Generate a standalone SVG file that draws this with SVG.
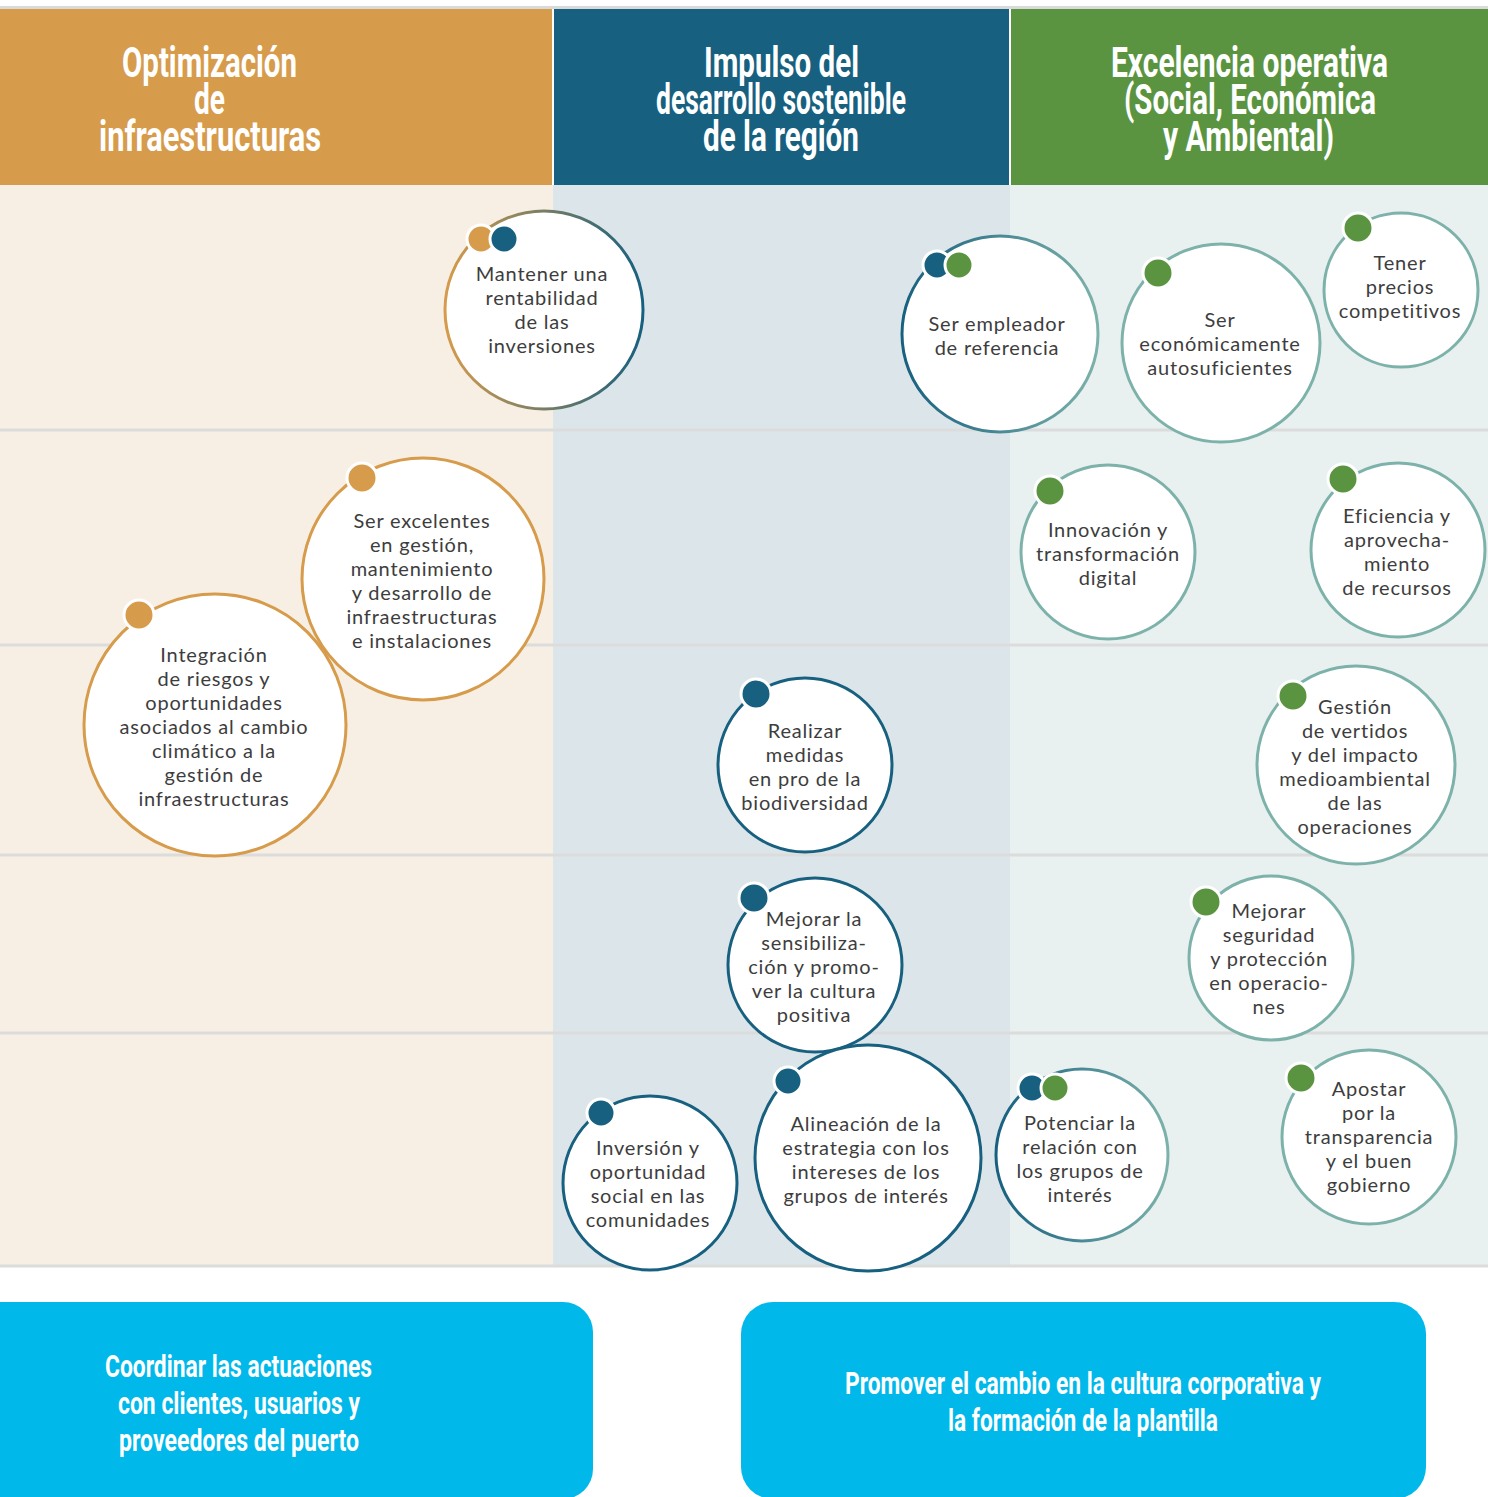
<svg xmlns="http://www.w3.org/2000/svg" width="1488" height="1497" viewBox="0 0 1488 1497">
<defs>
<style>
.t{font-family:"Lato","Open Sans",sans-serif;font-size:20px;letter-spacing:0.8px;fill:#3d3d3d;text-anchor:middle}
.h{font-family:"Liberation Sans Narrow","Roboto","Liberation Sans",sans-serif;font-weight:700;font-size:42px;fill:#ffffff}
.b{font-family:"Liberation Sans Narrow","Roboto","Liberation Sans",sans-serif;font-weight:700;font-size:32px;fill:#ffffff}
.c{fill:#ffffff;stroke-width:3}
.co{stroke:#D69B4B}
.cb{stroke:#17607F}
.ct{stroke:#7DB2AB}
.d{stroke:#ffffff;stroke-width:3}
.dO{fill:#D69B4B}
.dB{fill:#17607F}
.dG{fill:#5B9440}
.hl{stroke:#DCDCDC;stroke-width:3}
</style>
<linearGradient id="gOB" x1="0" y1="0" x2="1" y2="0">
<stop offset="0" stop-color="#D69B4B"/>
<stop offset="1" stop-color="#17607F"/>
</linearGradient>
<linearGradient id="gBT" x1="0" y1="0" x2="1" y2="0">
<stop offset="0" stop-color="#17607F"/>
<stop offset="1" stop-color="#7DB2AB"/>
</linearGradient>
</defs>
<rect x="0" y="0" width="1488" height="1497" fill="#ffffff"/>
<!-- top gray strip -->
<rect x="0" y="6" width="1488" height="3" fill="#D9D9D9"/>
<!-- body backgrounds -->
<rect x="0" y="185" width="553" height="1081" fill="#F7EFE3"/>
<rect x="553" y="185" width="457" height="1081" fill="#DCE6EA"/>
<rect x="1010" y="185" width="478" height="1081" fill="#E9F1F0"/>
<!-- headers -->
<g id="header1">
<rect x="0" y="9" width="552" height="176" fill="#D69B4B"/>
<text class="h" transform="translate(122,77) scale(0.8,1)" x="0" y="0" textLength="218.75" lengthAdjust="spacingAndGlyphs">Optimización</text>
<text class="h" transform="translate(194,114) scale(0.8,1)" x="0" y="0" textLength="38.75" lengthAdjust="spacingAndGlyphs">de</text>
<text class="h" transform="translate(99,151) scale(0.8,1)" x="0" y="0" textLength="277.5" lengthAdjust="spacingAndGlyphs">infraestructuras</text>
</g>
<g id="header2">
<rect x="554" y="9" width="455" height="176" fill="#17607F"/>
<text class="h" transform="translate(704,77) scale(0.8,1)" x="0" y="0" textLength="193.75" lengthAdjust="spacingAndGlyphs">Impulso del</text>
<text class="h" transform="translate(656,114) scale(0.8,1)" x="0" y="0" textLength="312.5" lengthAdjust="spacingAndGlyphs">desarrollo sostenible</text>
<text class="h" transform="translate(703,151) scale(0.8,1)" x="0" y="0" textLength="195" lengthAdjust="spacingAndGlyphs">de la región</text>
</g>
<g id="header3">
<rect x="1011" y="9" width="477" height="176" fill="#5B9440"/>
<text class="h" transform="translate(1111,77) scale(0.8,1)" x="0" y="0" textLength="346.25" lengthAdjust="spacingAndGlyphs">Excelencia operativa</text>
<text class="h" transform="translate(1124,114) scale(0.8,1)" x="0" y="0" textLength="315" lengthAdjust="spacingAndGlyphs">(Social, Económica</text>
<text class="h" transform="translate(1163,151) scale(0.8,1)" x="0" y="0" textLength="213.75" lengthAdjust="spacingAndGlyphs">y Ambiental)</text>
</g>
<!-- row lines -->
<g id="connectors">
<line class="hl" x1="0" y1="430" x2="1488" y2="430"/>
<line class="hl" x1="0" y1="645" x2="1488" y2="645"/>
<line class="hl" x1="0" y1="855" x2="1488" y2="855"/>
<line class="hl" x1="0" y1="1033" x2="1488" y2="1033"/>
<line class="hl" x1="0" y1="1266" x2="1488" y2="1266"/>
</g>

<g id="n1">
<circle cx="544" cy="310" r="99" class="c" stroke="url(#gOB)"/>
<circle cx="481" cy="239" r="14" class="d dO"/>
<circle cx="504" cy="239" r="14" class="d dB"/>
<text class="t"><tspan x="542" y="281">Mantener una</tspan><tspan x="542" dy="24">rentabilidad</tspan><tspan x="542" dy="24">de las</tspan><tspan x="542" dy="24">inversiones</tspan></text>
</g>
<g id="n2">
<circle cx="1000" cy="334" r="98" class="c" stroke="url(#gBT)"/>
<circle cx="937" cy="265" r="14" class="d dB"/>
<circle cx="959" cy="265" r="14" class="d dG"/>
<text class="t"><tspan x="997" y="331">Ser empleador</tspan><tspan x="997" dy="24">de referencia</tspan></text>
</g>
<g id="n3">
<circle cx="1221" cy="343" r="99" class="c ct"/>
<circle cx="1158" cy="273" r="15" class="d dG"/>
<text class="t"><tspan x="1220" y="327">Ser</tspan><tspan x="1220" dy="24">económicamente</tspan><tspan x="1220" dy="24">autosuficientes</tspan></text>
</g>
<g id="n4">
<circle cx="1401" cy="290" r="77" class="c ct"/>
<circle cx="1358" cy="228" r="15" class="d dG"/>
<text class="t"><tspan x="1400" y="270">Tener</tspan><tspan x="1400" dy="24">precios</tspan><tspan x="1400" dy="24">competitivos</tspan></text>
</g>
<g id="n5">
<circle cx="423" cy="579" r="121" class="c co"/>
<circle cx="362" cy="478" r="15" class="d dO"/>
<text class="t"><tspan x="422" y="528">Ser excelentes</tspan><tspan x="422" dy="24">en gestión,</tspan><tspan x="422" dy="24">mantenimiento</tspan><tspan x="422" dy="24">y desarrollo de</tspan><tspan x="422" dy="24">infraestructuras</tspan><tspan x="422" dy="24">e instalaciones</tspan></text>
</g>
<g id="n6">
<circle cx="215" cy="725" r="131" class="c co"/>
<circle cx="139" cy="615" r="15" class="d dO"/>
<text class="t"><tspan x="214" y="662">Integración</tspan><tspan x="214" dy="24">de riesgos y</tspan><tspan x="214" dy="24">oportunidades</tspan><tspan x="214" dy="24">asociados al cambio</tspan><tspan x="214" dy="24">climático a la</tspan><tspan x="214" dy="24">gestión de</tspan><tspan x="214" dy="24">infraestructuras</tspan></text>
</g>
<g id="n7">
<circle cx="1108" cy="552" r="87" class="c ct"/>
<circle cx="1050" cy="491" r="15" class="d dG"/>
<text class="t"><tspan x="1108" y="537">Innovación y</tspan><tspan x="1108" dy="24">transformación</tspan><tspan x="1108" dy="24">digital</tspan></text>
</g>
<g id="n8">
<circle cx="1398" cy="550" r="87" class="c ct"/>
<circle cx="1343" cy="479" r="15" class="d dG"/>
<text class="t"><tspan x="1397" y="523">Eficiencia y</tspan><tspan x="1397" dy="24">aprovecha-</tspan><tspan x="1397" dy="24">miento</tspan><tspan x="1397" dy="24">de recursos</tspan></text>
</g>
<g id="n9">
<circle cx="805" cy="765" r="87" class="c cb"/>
<circle cx="756" cy="694" r="15" class="d dB"/>
<text class="t"><tspan x="805" y="738">Realizar</tspan><tspan x="805" dy="24">medidas</tspan><tspan x="805" dy="24">en pro de la</tspan><tspan x="805" dy="24">biodiversidad</tspan></text>
</g>
<g id="n10">
<circle cx="1356" cy="765" r="99" class="c ct"/>
<circle cx="1293" cy="696" r="15" class="d dG"/>
<text class="t"><tspan x="1355" y="714">Gestión</tspan><tspan x="1355" dy="24">de vertidos</tspan><tspan x="1355" dy="24">y del impacto</tspan><tspan x="1355" dy="24">medioambiental</tspan><tspan x="1355" dy="24">de las</tspan><tspan x="1355" dy="24">operaciones</tspan></text>
</g>
<g id="n11">
<circle cx="815" cy="965" r="87" class="c cb"/>
<circle cx="754" cy="898" r="15" class="d dB"/>
<text class="t"><tspan x="814" y="926">Mejorar la</tspan><tspan x="814" dy="24">sensibiliza-</tspan><tspan x="814" dy="24">ción y promo-</tspan><tspan x="814" dy="24">ver la cultura</tspan><tspan x="814" dy="24">positiva</tspan></text>
</g>
<g id="n12">
<circle cx="1271" cy="958" r="82" class="c ct"/>
<circle cx="1206" cy="902" r="15" class="d dG"/>
<text class="t"><tspan x="1269" y="918">Mejorar</tspan><tspan x="1269" dy="24">seguridad</tspan><tspan x="1269" dy="24">y protección</tspan><tspan x="1269" dy="24">en operacio-</tspan><tspan x="1269" dy="24">nes</tspan></text>
</g>
<g id="n13">
<circle cx="650" cy="1183" r="87" class="c cb"/>
<circle cx="601" cy="1113" r="14" class="d dB"/>
<text class="t"><tspan x="648" y="1155">Inversión y</tspan><tspan x="648" dy="24">oportunidad</tspan><tspan x="648" dy="24">social en las</tspan><tspan x="648" dy="24">comunidades</tspan></text>
</g>
<g id="n14">
<circle cx="868" cy="1158" r="113" class="c cb"/>
<circle cx="788" cy="1081" r="14" class="d dB"/>
<text class="t"><tspan x="866" y="1131">Alineación de la</tspan><tspan x="866" dy="24">estrategia con los</tspan><tspan x="866" dy="24">intereses de los</tspan><tspan x="866" dy="24">grupos de interés</tspan></text>
</g>
<g id="n15">
<circle cx="1082" cy="1155" r="86" class="c" stroke="url(#gBT)"/>
<circle cx="1032" cy="1088" r="14" class="d dB"/>
<circle cx="1055" cy="1088" r="14" class="d dG"/>
<text class="t"><tspan x="1080" y="1130">Potenciar la</tspan><tspan x="1080" dy="24">relación con</tspan><tspan x="1080" dy="24">los grupos de</tspan><tspan x="1080" dy="24">interés</tspan></text>
</g>
<g id="n16">
<circle cx="1369" cy="1137" r="87" class="c ct"/>
<circle cx="1301" cy="1078" r="15" class="d dG"/>
<text class="t"><tspan x="1369" y="1096">Apostar</tspan><tspan x="1369" dy="24">por la</tspan><tspan x="1369" dy="24">transparencia</tspan><tspan x="1369" dy="24">y el buen</tspan><tspan x="1369" dy="24">gobierno</tspan></text>
</g>

<g id="box1">
<rect x="-40" y="1302" width="633" height="197" rx="30" fill="#00B8EA"/>
<text class="b" transform="translate(105,1377) scale(0.8,1)" x="0" y="0" textLength="333.75" lengthAdjust="spacingAndGlyphs">Coordinar las actuaciones</text>
<text class="b" transform="translate(118,1414) scale(0.8,1)" x="0" y="0" textLength="302.5" lengthAdjust="spacingAndGlyphs">con clientes, usuarios y</text>
<text class="b" transform="translate(119,1451) scale(0.8,1)" x="0" y="0" textLength="300" lengthAdjust="spacingAndGlyphs">proveedores del puerto</text>
</g>
<g id="box2">
<rect x="741" y="1302" width="685" height="197" rx="32" fill="#00B8EA"/>
<text class="b" transform="translate(845,1394) scale(0.8,1)" x="0" y="0" textLength="595" lengthAdjust="spacingAndGlyphs">Promover el cambio en la cultura corporativa y</text>
<text class="b" transform="translate(948,1431) scale(0.8,1)" x="0" y="0" textLength="337.5" lengthAdjust="spacingAndGlyphs">la formación de la plantilla</text>
</g>
</svg>
